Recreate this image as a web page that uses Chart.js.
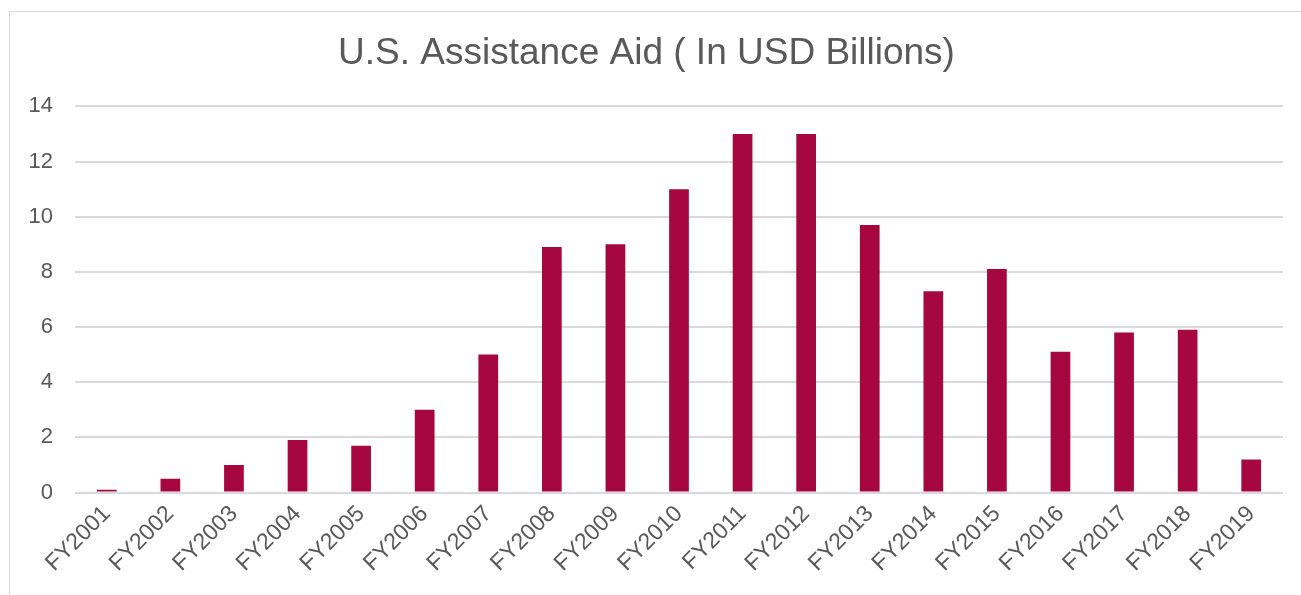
<!DOCTYPE html>
<html>
<head>
<meta charset="utf-8">
<script src="https://cdn.jsdelivr.net/npm/chart.js@4"></script>
<style>
  html, body { margin: 0; padding: 0; background: #fff; overflow: hidden; }
  #box {
    position: absolute; left: 9px; top: 11px;
    width: 1304px; height: 600px;
    border: 1px solid #d9d9d9;
  }
</style>
</head>
<body>
<div id="box"><canvas id="aidChart"></canvas></div>
<script>
// U.S. Assistance Aid chart
const years = ['FY2001', 'FY2002', 'FY2003', 'FY2004', 'FY2005', 'FY2006', 'FY2007',
    'FY2008', 'FY2009', 'FY2010', 'FY2011', 'FY2012', 'FY2013', 'FY2014', 'FY2015',
    'FY2016', 'FY2017', 'FY2018', 'FY2019'];
const aidBillions = [0.1, 0.5, 1.0, 1.9, 1.7, 3.0, 5.0, 8.9, 9.0, 11.0, 13.0, 13.0,
    9.7, 7.3, 8.1, 5.1, 5.8, 5.9, 1.2];
const yTicks = [0, 2, 4, 6, 8, 10, 12, 14];

const textGray = '#595959';
const gridGray = '#d9d9d9';

const aidCtx = document.getElementById('aidChart').getContext('2d');
const aidChart = new Chart(aidCtx, {
    type: 'bar',
    data: {
        labels: years,
        datasets: [{
            label: 'U.S. Assistance Aid',
            data: aidBillions,
            backgroundColor: '#a5073e',
            categoryPercentage: 1,
            barPercentage: 0.31,
        }]
    },
    options: {
        responsive: true,
        maintainAspectRatio: false,
        animation: false,
        layout: {
            padding: { left: 0, right: 31, top: 20, bottom: 27 }
        },
        plugins: {
            legend: { display: false },
            tooltip: { enabled: false },
            title: {
                display: true,
                text: 'U.S. Assistance Aid ( In USD Billions)',
                color: textGray,
                font: { family: 'Liberation Sans', size: 37, weight: 'normal' },
                padding: { top: 0, bottom: 30 }
            }
        },
        scales: {
            x: {
                grid: { display: false, drawTicks: false },
                border: { display: false },
                ticks: {
                    color: textGray,
                    font: { family: 'Liberation Sans', size: 23 },
                    minRotation: 45,
                    maxRotation: 45,
                    padding: 8
                }
            },
            y: {
                min: yTicks[0],
                max: yTicks[yTicks.length - 1],
                afterBuildTicks: (axis) => {
                    axis.ticks = yTicks.map(v => ({ value: v }));
                },
                afterFit: (axis) => { axis.width = 65; },
                grid: { color: gridGray, lineWidth: 2, drawTicks: false },
                border: { display: false },
                ticks: {
                    color: textGray,
                    font: { family: 'Liberation Sans', size: 22 },
                    padding: 22
                }
            }
        }
    }
});
</script>
</body>
</html>
